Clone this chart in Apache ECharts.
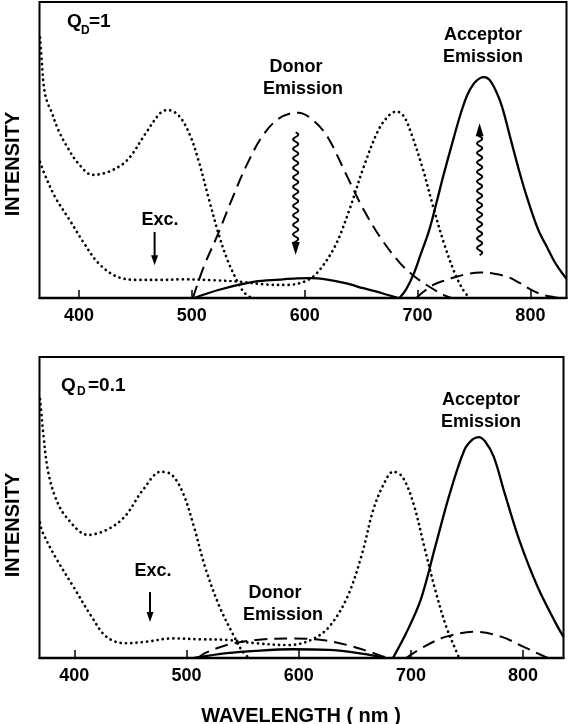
<!DOCTYPE html>
<html><head><meta charset="utf-8">
<script src="https://cdn.jsdelivr.net/npm/echarts@6/dist/echarts.min.js"></script>
<style>html,body{margin:0;padding:0;background:#fff}#c{width:570px;height:724px}</style>
</head><body><div id="c"></div>
<script>
// ---- data (wavelength nm, relative intensity 0..100) ----
const xTicks = [400, 500, 600, 700, 800];

// Panel 1: Q_D = 1
const topDonorAbs = [[365.5,88],[367,80],[369,71],[372,66],[375,63.5],[381.6,56.8],[389.6,51],[399.3,45.5],[412,41.6],[426.6,42.7],[442.8,46.6],[459,55.6],[471.8,62.4],[478.3,63.5],[488,61.8],[497.7,55.6],[505.8,46.6],[515.4,33],[523.5,21.9],[531.6,12.8],[539.7,6.1],[546,2],[553,0]];
const topAccAbs = [[365.5,46],[368.6,42.7],[378.7,34.2],[391.6,26.4],[404.5,18.5],[417.4,11.7],[433.7,7.2],[452.9,6.1],[472,6.1],[491.6,6.3],[520,6],[543,5.5],[565,4.6],[585,4.4],[600,5.6],[610.6,8.3],[626.6,17.3],[639.5,29.7],[652.4,44.4],[665.4,56.8],[675,61.8],[681.5,63],[688,61.3],[694.4,55.6],[704.1,44.4],[713.8,30.9],[723.4,18.5],[733.1,8.3],[740,3],[746,0]];
const topDonorEm = [[500.9,0],[510.6,10.6],[523.5,21.9],[536.4,34.2],[549.3,45.5],[562.2,54.5],[575.1,60.1],[588,62.4],[594.4,62.6],[607.3,60.1],[620.2,54.5],[636.3,42.1],[652.4,29.7],[668.6,19.6],[684.7,11.7],[697.6,7.2],[710.5,3.8],[723.4,1],[730,0]];
const topDonorQ = [[502,0],[523.5,2.7],[555.7,5.5],[578,6.2],[593,6.6],[605,6.7],[620,6.2],[636,5],[652,3.3],[668.6,1.6],[683,0]];
const topAccEm = [[684,0],[690,3],[697,8.5],[703,15],[710,22.5],[717,32.5],[723,41.5],[732,54],[738,62],[744,68.5],[750,72.5],[755,74.2],[759,74.6],[764,73.6],[770,69.5],[775,64.5],[783,53],[790,43],[797,34],[807,23],[815,17],[821,12.5],[827,9],[832,6.5]];
const topAccDirect = [[699,0],[705,2],[714,4.4],[723,5.8],[732,6.9],[745,8.2],[756,8.6],[768,8.2],[780,7.1],[790,5.2],[800,2.9],[810,1.2],[821,0.3],[826,0]];

// Panel 2: Q_D = 0.1
const botDonorAbs = [[369.5,86],[371,80],[372.5,74],[376.4,62.5],[382.9,53.6],[392.7,46.9],[412.3,40.9],[428.5,42.5],[444.8,46.9],[461.1,55.8],[477.4,61.9],[487.1,60.8],[497,54.7],[506.7,43.6],[516.5,30.3],[529.5,17],[542.5,7.1],[549,2.7],[555.5,0]];
const botAccAbs = [[369.5,45],[371.5,42],[382.9,33.7],[399.2,23.7],[415.5,13.7],[428.5,7.1],[444.8,4.9],[464.4,5.4],[487.1,6.5],[513.2,6.2],[536,6],[562.1,4.9],[591.4,4.3],[611,6],[627.2,10.4],[643.5,20.4],[656.6,34.8],[666.4,49.2],[676.1,58],[684.2,61.9],[692.4,60.2],[702.2,51.4],[711.9,37],[721.7,22.6],[731.5,10.4],[741.2,1.6],[743,0]];
const botAccEm = [[684,0],[695.7,8.2],[708.7,19.3],[721.7,37],[734.7,54.7],[747.7,69.1],[755,72.6],[760.5,73.4],[766,72],[773.8,66.9],[783.6,54.7],[796.6,39.2],[812.9,23.7],[829.2,11.5],[836,7]];
const botAccDirect = [[695.7,0],[711.9,3.8],[731.5,7.1],[757.5,8.7],[780.3,7.1],[800,3.8],[816.1,1],[822,0]];
const botDonorEm = [[510,0],[516.5,1.6],[536,4.3],[562,6],[594.7,6.5],[620.7,6],[643.5,4.3],[663,2.1],[676,0.4],[680,0]];
const botDonorQ = [[506.7,0],[536,1.6],[562,2.4],[594.7,2.9],[627,2.7],[653.3,1.6],[672.6,0.4],[678,0]];

// ---- chart ----
const FONT = '"Liberation Sans", Arial, sans-serif';
const chart = echarts.init(document.getElementById('c'), null, {renderer: 'canvas'});

const DOT = {color:'#000', width:2.7, type:[0.1,5.2], cap:'round'};
const DASH = {color:'#000', width:2, type:[13,7]};
const SOLID = {color:'#000', width:2.3, type:'solid'};

function ser(data, gi, style) {
  return {type:'line', data:data, xAxisIndex:gi, yAxisIndex:gi, showSymbol:false, symbol:'none',
    smooth:0.35, lineStyle:style, silent:true, animation:false, z:3};
}
function xAx(gi, min, max) {
  return {gridIndex:gi, type:'value', min:min, max:max,
    axisLine:{show:true, onZero:false, lineStyle:{color:'#000', width:2.4}},
    axisTick:{show:true, inside:true, length:8, customValues:xTicks, lineStyle:{color:'#000', width:1.5}},
    axisLabel:{customValues:xTicks, color:'#000', fontSize:18, fontWeight:'bold', fontFamily:FONT, margin:9},
    splitLine:{show:false}};
}
function yAx(gi) { return {gridIndex:gi, type:'value', min:0, max:100, show:false}; }

chart.setOption({
  animation:false,
  backgroundColor:'#fff',
  grid:[
    {left:39.5, top:2, width:527, height:296, show:true, borderColor:'#000', borderWidth:2, backgroundColor:'transparent'},
    {left:39.5, top:357, width:524, height:301, show:true, borderColor:'#000', borderWidth:2, backgroundColor:'transparent'}
  ],
  xAxis:[xAx(0,365,832), xAx(1,369,836)],
  yAxis:[yAx(0), yAx(1)],
  series:[
    ser(topDonorAbs,0,DOT), ser(topAccAbs,0,DOT), ser(topDonorEm,0,DASH), ser(topDonorQ,0,SOLID), ser(topAccEm,0,SOLID), ser(topAccDirect,0,DASH),
    ser(botDonorAbs,1,DOT), ser(botAccAbs,1,DOT), ser(botDonorEm,1,DASH), ser(botDonorQ,1,SOLID), ser(botAccEm,1,SOLID), ser(botAccDirect,1,DASH)
  ]
});

// ---- annotations ----
function P(gi, x, y) { return chart.convertToPixel({gridIndex:gi}, [x, y]); }
const els = [];
function txt(t, x, y, size, extra, align) {
  els.push(Object.assign({type:'text', x:x, y:y, silent:true, z:10,
    style:{text:t, fill:'#000', font:'bold ' + size + 'px ' + FONT, align:align || 'center', verticalAlign:'middle'}}, extra || {}));
}
function head(tip, dir, w, l) { // dir: +1 pointing down, -1 pointing up
  els.push({type:'polygon', silent:true, z:10, shape:{points:[[tip[0], tip[1]], [tip[0]-w/2, tip[1]-dir*l], [tip[0]+w/2, tip[1]-dir*l]]}, style:{fill:'#000'}});
}
function straightArrow(gi, x, yFrom, yTo) {
  const a = P(gi, x, yFrom), b = P(gi, x, yTo);
  const dir = b[1] > a[1] ? 1 : -1;
  els.push({type:'line', silent:true, z:10, shape:{x1:a[0], y1:a[1], x2:b[0], y2:b[1]-dir*8}, style:{stroke:'#000', lineWidth:2}});
  head(b, dir, 7, 10);
}
function wavyArrow(gi, x, yFrom, yTo) {
  const a = P(gi, x, yFrom), b = P(gi, x, yTo);
  const dir = b[1] > a[1] ? 1 : -1;
  const len = Math.abs(b[1] - a[1]) - 11;
  const pts = [];
  for (let s = 0; s <= len; s += 0.5) {
    pts.push([a[0] + 2.6 * Math.sin(2 * Math.PI * s / 9.5), a[1] + dir * s]);
  }
  els.push({type:'polyline', silent:true, z:10, shape:{points:pts}, style:{stroke:'#000', lineWidth:1.9, fill:null}});
  head(b, dir, 8, 13);
}

// Panel 1 labels
txt('Q', 67, 22, 19, null, 'left');
txt('D', 81, 31, 12, null, 'left');
txt('=1', 89, 22, 19, null, 'left');
txt('Donor', 296, 67, 18);
txt('Emission', 303, 89, 18);
txt('Acceptor', 483, 35, 18);
txt('Emission', 483, 57, 18);
txt('Exc.', 160, 220, 18);
straightArrow(0, 467, 22.3, 11.1);
wavyArrow(0, 592, 56, 14.5);
wavyArrow(0, 755, 14.5, 59);

// Panel 2 labels
txt('Q', 61, 386, 19, null, 'left');
txt('D', 77, 392, 12, null, 'left');
txt('=0.1', 88, 386, 19, null, 'left');
txt('Acceptor', 481, 400, 18);
txt('Emission', 481, 422, 18);
txt('Exc.', 153, 571, 18);
txt('Donor', 275, 593, 18);
txt('Emission', 283, 615, 18);
straightArrow(1, 467.5, 21.9, 12);

// axis titles
txt('INTENSITY', 13, 164, 20, {rotation: Math.PI / 2});
txt('INTENSITY', 13, 525, 20, {rotation: Math.PI / 2});
txt('WAVELENGTH ( nm )', 301, 716, 20);

chart.setOption({graphic:{elements:els}});
</script></body></html>
